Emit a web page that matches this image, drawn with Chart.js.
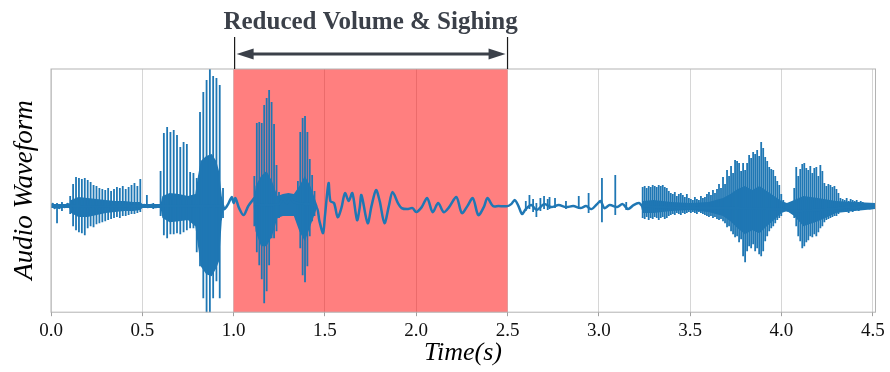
<!DOCTYPE html>
<html>
<head>
<meta charset="utf-8">
<script src="https://cdn.jsdelivr.net/npm/chart.js@4.4.1/dist/chart.umd.min.js"></script>
<style>
  html, body { margin: 0; padding: 0; background: #ffffff; }
  #wrap { width: 890px; height: 372px; }
</style>
</head>
<body>
<div id="wrap"><canvas id="waveChart" width="890" height="372"></canvas></div>
<script>
// Eje de tiempo (s) y marcas
const xTicks = [0.0, 0.5, 1.0, 1.5, 2.0, 2.5, 3.0, 3.5, 4.0, 4.5];
const spanStart = 1.0;   // zona "Reduced Volume & Sighing"
const spanEnd = 2.5;

// Traza de baja frecuencia (línea central)
const traceT = [0, 0.01, 0.02, 0.03, 0.045, 0.06, 0.075, 0.09, 0.105, 0.49,
    0.51, 0.53, 0.55, 0.57, 0.59, 0.605, 0.94, 0.95, 0.97, 0.99,
    1.0, 1.01, 1.03, 1.055, 1.08, 1.1, 1.115, 1.12, 1.25, 1.27,
    1.29, 1.31, 1.33, 1.35, 1.45, 1.47, 1.49, 1.5, 1.52, 1.53,
    1.55, 1.57, 1.59, 1.61, 1.63, 1.65, 1.676, 1.69, 1.7, 1.734,
    1.755, 1.78, 1.8, 1.826, 1.85, 1.87, 1.9, 1.92, 1.95, 1.98,
    2.0, 2.03, 2.06, 2.09, 2.12, 2.15, 2.18, 2.22, 2.25, 2.28,
    2.31, 2.34, 2.37, 2.39, 2.42, 2.45, 2.5, 2.52, 2.54, 2.56,
    2.58, 2.6, 2.63, 2.66, 2.7, 2.74, 2.78, 2.82, 2.86, 2.9,
    2.93, 2.96, 2.99, 3.01, 3.03, 3.06, 3.1, 3.13, 3.16, 3.19,
    3.22, 3.24, 3.5, 3.7, 4.0, 4.05, 4.33, 4.36, 4.4, 4.45,
    4.48, 4.515];
const traceV = [0, 0.02, -0.02, 0.01, -0.02, 0.01, -0.01, 0.02, 0, 0,
    0.01, -0.01, 0.01, -0.01, 0, 0, 0, -0.03, 0.02, 0.09,
    0.03, 0.08, -0.02, -0.09, 0, 0.05, 0.08, 0.02, 0.02, 0.08,
    0.03, 0.08, 0.04, 0.03, 0, -0.15, -0.27, -0.1, 0.23, 0.05,
    0.03, -0.11, -0.02, 0.13, 0.05, 0.13, -0.14, -0.02, 0.11, -0.17,
    0, 0.16, 0.05, -0.17, 0, 0.14, 0.03, -0.02, -0.03, -0.02,
    -0.06, -0.01, 0.08, -0.06, 0.03, -0.06, -0.01, 0.09, -0.07, 0,
    0.08, -0.09, -0.01, 0.08, 0, 0, 0, 0.02, 0.06, 0,
    -0.08, -0.03, 0.01, -0.04, 0.02, -0.01, 0.01, -0.01, 0, -0.02,
    0, -0.03, 0.02, 0.05, -0.02, 0.01, -0.01, 0.02, -0.03, 0.01,
    0.03, 0, -0.02, -0.02, -0.03, -0.05, -0.02, -0.01, -0.02, 0,
    -0.02, -0.01];

// Núcleo denso de la señal (envolvente superior / inferior)
const coreT = [0.0, 0.1, 0.11, 0.15, 0.2, 0.25, 0.3, 0.35, 0.4, 0.45,
    0.49, 0.5, 0.6, 0.61, 0.65, 0.7, 0.75, 0.79, 0.805, 0.82,
    0.85, 0.88, 0.905, 0.92, 0.935, 0.945, 0.95, 1.11, 1.12, 1.15,
    1.18, 1.21, 1.24, 1.27, 1.3, 1.33, 1.36, 1.39, 1.42, 1.45,
    1.46, 3.23, 3.24, 3.3, 3.4, 3.5, 3.6, 3.68, 3.72, 3.76,
    3.8, 3.84, 3.88, 3.92, 3.96, 4.0, 4.03, 4.07, 4.12, 4.2,
    4.3, 4.4, 4.515];
const coreHi = [0.02, 0.02, 0.06, 0.09, 0.08, 0.07, 0.06, 0.05, 0.05, 0.04,
    0.04, 0.02, 0.02, 0.1, 0.13, 0.12, 0.1, 0.12, 0.3, 0.45,
    0.5, 0.52, 0.45, 0.35, 0.1, 0.02, 0, 0, 0.2, 0.3,
    0.35, 0.25, 0.1, 0.12, 0.13, 0.12, 0.2, 0.3, 0.2, 0.05,
    0, 0, 0.05, 0.06, 0.04, 0.03, 0.04, 0.08, 0.12, 0.17,
    0.2, 0.16, 0.2, 0.15, 0.1, 0.05, 0.03, 0.06, 0.1, 0.08,
    0.05, 0.04, 0.03];
const coreLo = [-0.02, -0.02, -0.07, -0.11, -0.11, -0.09, -0.07, -0.06, -0.05, -0.05,
    -0.04, -0.02, -0.02, -0.12, -0.16, -0.15, -0.14, -0.2, -0.4, -0.6,
    -0.68, -0.7, -0.62, -0.55, -0.15, -0.02, 0, 0, -0.25, -0.4,
    -0.4, -0.3, -0.12, -0.1, -0.1, -0.1, -0.25, -0.35, -0.2, -0.05,
    0, 0, -0.07, -0.07, -0.05, -0.04, -0.06, -0.1, -0.15, -0.22,
    -0.28, -0.24, -0.27, -0.2, -0.14, -0.07, -0.05, -0.1, -0.2, -0.15,
    -0.07, -0.05, -0.03];

// Pulsos (picos) de cada tramo sonoro: máximos y mínimos
const hiA = [0.10, 0.22, 0.29, 0.28, 0.27, 0.28, 0.26, 0.24, 0.21, 0.2, 0.18, 0.17, 0.16,
    0.18, 0.15, 0.17, 0.19, 0.18, 0.2, 0.17, 0.19, 0.21, 0.23, 0.2, 0.27];
const loA = [-0.08, -0.2, -0.24, -0.26, -0.27, -0.29, -0.22, -0.2, -0.21, -0.18, -0.17, -0.16, -0.15,
    -0.14, -0.13, -0.12, -0.11, -0.12, -0.1, -0.1, -0.09, -0.08, -0.08, -0.07, -0.06];
const hiB = [0.35, 0.73, 0.79, 0.74, 0.76, 0.71, 0.59, 0.64, 0.62, 0.34,
    0.33, 0.28, 0.94, 1.14, 1.26, 1.37, 1.3, 1.28, 1.21, 0.18];
const loB = [-0.1, -0.29, -0.32, -0.28, -0.28, -0.27, -0.28, -0.26, -0.24, -0.22,
    -0.22, -0.46, -0.6, -0.92, -1.07, -1.07, -0.92, -0.75, -0.92, -0.12];
const hiC1 = [0.3, 0.83, 0.84, 0.83, 1.01, 1.08, 1.16, 1.04, 0.82, 0.41, 0.14];
const loC1 = [-0.2, -0.46, -0.59, -0.73, -0.97, -0.85, -0.59, -0.32, -0.32, -0.25, -0.12];
const hiC2 = [0.25, 0.74, 0.88, 0.9, 0.74, 0.47, 0.31, 0.15];
const loC2 = [-0.15, -0.42, -0.69, -0.76, -0.6, -0.3, -0.15, -0.1];
const hiD = [0.19, 0.2, 0.18, 0.2, 0.19, 0.21, 0.2, 0.19, 0.21, 0.2,
    0.21, 0.19, 0.18, 0.15, 0.13, 0.12, 0.14, 0.1, 0.12, 0.13,
    0.11, 0.09, 0.12, 0.08, 0.07, 0.06, 0.09, 0.07, 0.06, 0.1,
    0.08, 0.09, 0.12, 0.14, 0.11, 0.16, 0.13, 0.17, 0.22, 0.18];
const loD = [-0.12, -0.13, -0.11, -0.14, -0.12, -0.13, -0.11, -0.12, -0.14, -0.12,
    -0.11, -0.13, -0.12, -0.1, -0.09, -0.08, -0.09, -0.07, -0.08, -0.09,
    -0.07, -0.08, -0.07, -0.06, -0.07, -0.06, -0.07, -0.08, -0.06, -0.07,
    -0.08, -0.09, -0.1, -0.11, -0.1, -0.12, -0.11, -0.13, -0.14, -0.13];
const hiE = [0.29, 0.22, 0.36, 0.3, 0.4, 0.33, 0.46, 0.45, 0.43, 0.35,
    0.43, 0.36, 0.43, 0.51, 0.48, 0.54, 0.52, 0.56, 0.5, 0.64,
    0.58, 0.49, 0.45, 0.39, 0.37, 0.36, 0.3, 0.25, 0.21, 0.12, 0.06];
const loE = [-0.15, -0.17, -0.21, -0.2, -0.25, -0.28, -0.31, -0.3, -0.36, -0.33,
    -0.5, -0.56, -0.45, -0.4, -0.42, -0.38, -0.45, -0.42, -0.48, -0.5,
    -0.45, -0.35, -0.3, -0.25, -0.22, -0.2, -0.17, -0.14, -0.12, -0.1, -0.06];
const hiF = [0.18, 0.39, 0.3, 0.37, 0.42, 0.43, 0.38, 0.36, 0.4, 0.33,
    0.38, 0.39, 0.3, 0.41, 0.35, 0.23, 0.2, 0.22, 0.21, 0.19, 0.2, 0.17, 0.13, 0.08];
const loF = [-0.12, -0.2, -0.3, -0.35, -0.42, -0.4, -0.36, -0.34, -0.3, -0.31,
    -0.28, -0.3, -0.26, -0.22, -0.2, -0.16, -0.14, -0.13, -0.12, -0.11, -0.1, -0.1, -0.08, -0.06];
const hiG = [0.07, 0.06, 0.08, 0.05, 0.07, 0.06, 0.05, 0.06, 0.04, 0.05, 0.04];
const loG = [-0.06, -0.05, -0.06, -0.07, -0.05, -0.06, -0.05, -0.04, -0.05, -0.04, -0.04];

// Picos aislados
const spikeT = [0.033, 0.06, 0.525, 0.56, 2.6, 2.62, 2.64, 2.658, 2.68, 2.7,
    2.72, 2.73, 2.76, 2.82, 2.89, 2.944, 3.017, 3.09, 3.15];
const spikeHi = [0.03, 0.04, 0.11, 0.03, 0.05, 0.11, 0.07, 0.03, 0.08, 0.1,
    0.07, 0.09, 0.08, 0.05, 0.1, 0.13, 0.28, 0.31, 0.04];
const spikeLo = [-0.17, -0.05, -0.02, -0.03, -0.05, -0.03, -0.06, -0.11, -0.05, -0.03,
    -0.04, -0.03, -0.02, -0.03, -0.03, -0.07, -0.16, -0.09, -0.04];

// Inicio y paso (s) de cada tramo sonoro
const bursts = [
    { start: 0.105, step: 0.016, hi: hiA, lo: loA },
    { start: 0.6, step: 0.018, hi: hiB, lo: loB },
    { start: 1.1135, step: 0.0135, hi: hiC1, lo: loC1 },
    { start: 1.352, step: 0.013, hi: hiC2, lo: loC2 },
    { start: 3.24, step: 0.011, hi: hiD, lo: loD },
    { start: 3.68, step: 0.011, hi: hiE, lo: loE },
    { start: 4.07, step: 0.011, hi: hiF, lo: loF },
    { start: 4.335, step: 0.011, hi: hiG, lo: loG }
];

const BLUE = '#1f77b4';
const SERIF = '"Liberation Serif", "Times New Roman", serif';

function toPoints(xs, ys) {
    return xs.map(function (x, i) { return { x: x, y: ys[i] }; });
}

// Tabla de barras flotantes (cada pulso va de su mínimo a su máximo)
const spikePts = [];
bursts.forEach(function (b) {
    b.hi.forEach(function (h, i) {
        spikePts.push({ x: b.start + i * b.step, y: [b.lo[i], h] });
    });
});
spikeT.forEach(function (t, i) {
    spikePts.push({ x: t, y: [spikeLo[i], spikeHi[i]] });
});

// Plugin: zona roja, marco, título con flecha y títulos de ejes
const decorPlugin = {
    id: 'decor',
    beforeDatasetsDraw: function (chart) {
        const ctx = chart.ctx, a = chart.chartArea, x = chart.scales.x;
        const x1 = x.getPixelForValue(spanStart), x2 = x.getPixelForValue(spanEnd);
        ctx.save();
        ctx.fillStyle = 'rgba(255, 0, 0, 0.5)';
        ctx.fillRect(x1, a.top, x2 - x1, a.bottom - a.top);
        ctx.restore();
    },
    afterDraw: function (chart) {
        const ctx = chart.ctx, a = chart.chartArea, x = chart.scales.x;
        const x1 = x.getPixelForValue(spanStart), x2 = x.getPixelForValue(spanEnd);
        ctx.save();
        // marco del gráfico
        ctx.strokeStyle = '#b3b3b3';
        ctx.lineWidth = 1;
        ctx.strokeRect(a.left, a.top, a.right - a.left, a.bottom - a.top);

        // líneas verticales del corchete
        ctx.strokeStyle = '#1a1a1a';
        ctx.lineWidth = 1.2;
        ctx.beginPath();
        ctx.moveTo(x1 + 1, a.top - 32); ctx.lineTo(x1 + 1, a.top);
        ctx.moveTo(x2, a.top - 32); ctx.lineTo(x2, a.top);
        ctx.stroke();

        // flecha doble
        const ay = a.top - 15;
        ctx.strokeStyle = '#3b4049';
        ctx.fillStyle = '#3b4049';
        ctx.lineWidth = 3;
        ctx.beginPath();
        ctx.moveTo(x1 + 14, ay); ctx.lineTo(x2 - 14, ay);
        ctx.stroke();
        ctx.beginPath();
        ctx.moveTo(x1 + 3, ay); ctx.lineTo(x1 + 20, ay - 5.5); ctx.lineTo(x1 + 20, ay + 5.5);
        ctx.closePath(); ctx.fill();
        ctx.beginPath();
        ctx.moveTo(x2 - 2, ay); ctx.lineTo(x2 - 19, ay - 5.5); ctx.lineTo(x2 - 19, ay + 5.5);
        ctx.closePath(); ctx.fill();

        // título de la zona
        ctx.font = 'bold 25px ' + SERIF;
        ctx.textAlign = 'center';
        ctx.textBaseline = 'alphabetic';
        ctx.fillText('Reduced Volume & Sighing', (x1 + x2) / 2, 29);

        // títulos de ejes
        ctx.fillStyle = '#000000';
        ctx.font = 'italic 26px ' + SERIF;
        ctx.textBaseline = 'middle';
        ctx.fillText('Time(s)', 463, 353);
        ctx.font = 'italic 27px ' + SERIF;
        ctx.translate(25, 190);
        ctx.rotate(-Math.PI / 2);
        ctx.fillText('Audio Waveform', 0, 0);
        ctx.restore();
    }
};

const ctx = document.getElementById('waveChart').getContext('2d');
new Chart(ctx, {
    type: 'line',
    data: {
        datasets: [
            {
                label: 'coreHi',
                data: toPoints(coreT, coreHi),
                borderWidth: 0,
                pointRadius: 0,
                fill: false,
                order: 3
            },
            {
                label: 'coreLo',
                data: toPoints(coreT, coreLo),
                borderWidth: 0,
                pointRadius: 0,
                backgroundColor: BLUE,
                fill: '-1',
                order: 3
            },
            {
                type: 'bar',
                label: 'spikes',
                data: spikePts,
                backgroundColor: BLUE,
                barThickness: 1.8,
                grouped: false,
                inflateAmount: 0,
                borderWidth: 0,
                order: 2
            },
            {
                label: 'trace',
                data: toPoints(traceT, traceV),
                borderColor: BLUE,
                borderWidth: 2.5,
                pointRadius: 0,
                fill: false,
                tension: 0.3,
                order: 1
            }
        ]
    },
    options: {
        responsive: false,
        animation: false,
        layout: { padding: { left: 51, right: 14.5, top: 69, bottom: 27 } },
        plugins: {
            legend: { display: false },
            tooltip: { enabled: false }
        },
        scales: {
            x: {
                type: 'linear',
                min: 0,
                max: 4.515,
                offset: false,
                afterBuildTicks: function (scale) {
                    scale.ticks = xTicks.map(function (v) { return { value: v }; });
                },
                grid: { offset: false, color: '#d6d6d6', lineWidth: 1, tickLength: 4, tickColor: '#a0a0a0' },
                border: { display: false },
                ticks: {
                    autoSkip: false,
                    maxRotation: 0,
                    padding: 3,
                    color: '#111111',
                    font: { family: SERIF, size: 19 },
                    callback: function (v) { return Number(v).toFixed(1); }
                }
            },
            y: {
                display: false,
                min: -1.06,
                max: 1.37
            }
        }
    },
    plugins: [decorPlugin]
});
</script>
</body>
</html>
